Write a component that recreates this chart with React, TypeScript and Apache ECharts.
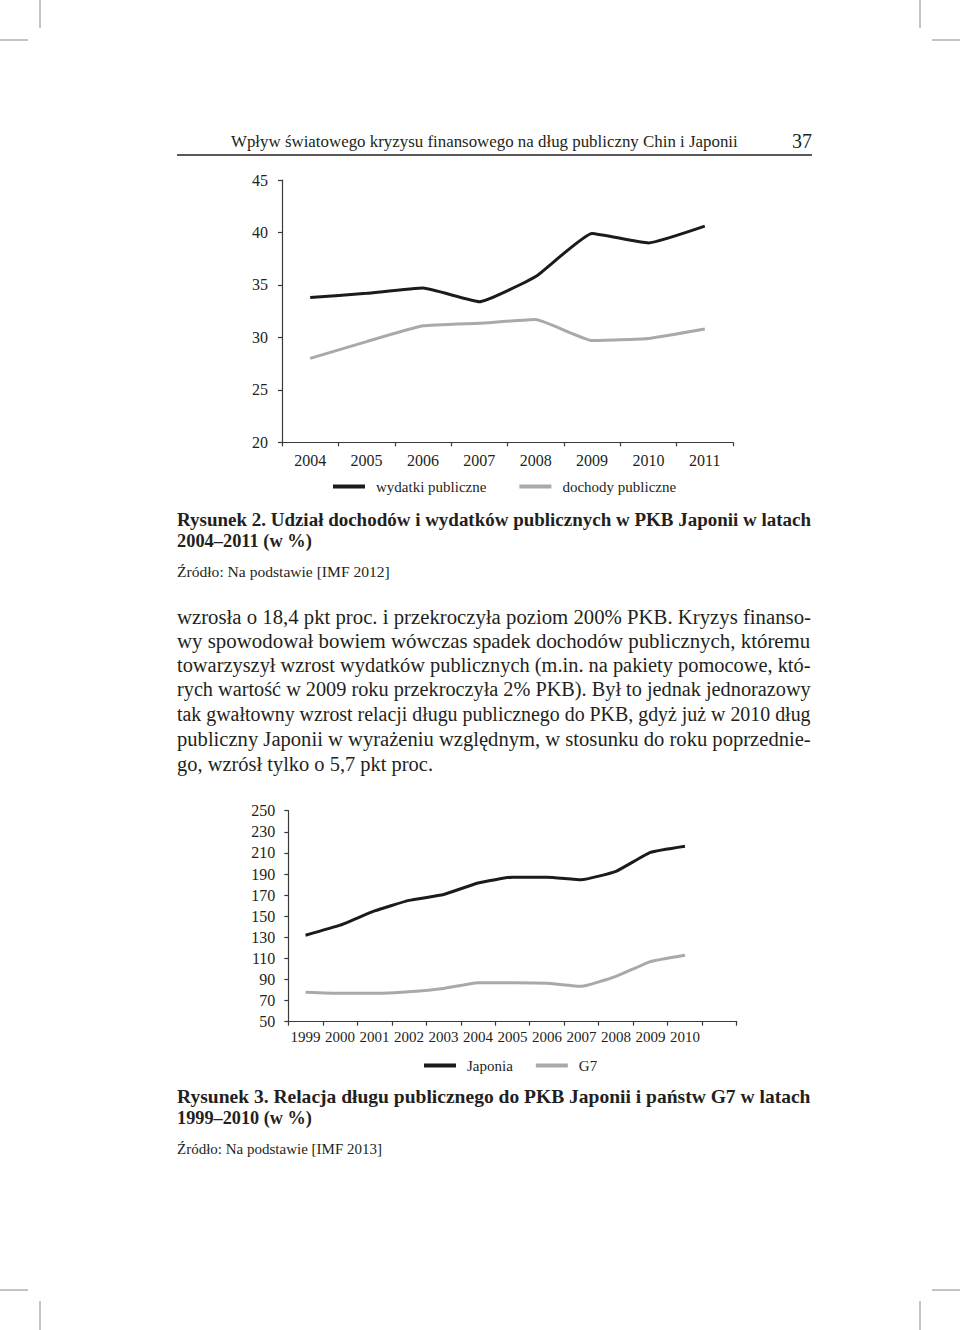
import React, { useEffect, useRef } from "react";
import * as echarts from "echarts";

// ---- Data: Figure 2 (share of public revenue / expenditure in GDP of Japan, %)
const years1 = ["2004", "2005", "2006", "2007", "2008", "2009", "2010", "2011"];
const wydatki = [33.8, 34.2, 34.7, 33.4, 35.8, 39.9, 39.0, 40.6];
const dochody = [28.0, 29.6, 31.1, 31.35, 31.7, 29.7, 29.9, 30.8];

// ---- Data: Figure 3 (public debt to GDP, Japan and G7, %)
const years2 = ["1999", "2000", "2001", "2002", "2003", "2004", "2005", "2006", "2007", "2008", "2009", "2010"];
const japonia = [132, 141.5, 155, 165, 170.5, 181.5, 187, 187, 184.5, 192.5, 210.5, 216.3];
const g7 = [78, 77, 77, 78.5, 81.5, 87, 87, 86.5, 83.5, 93, 107, 113];

// ---- Page texts
const headerText = "Wpływ światowego kryzysu finansowego na dług publiczny Chin i Japonii";
const pageNumber = "37";
const caption2 = ["Rysunek 2. Udział dochodów i wydatków publicznych w PKB Japonii w latach", "2004–2011 (w %)"];
const source2 = "Źródło: Na podstawie [IMF 2012]";
const bodyLines = [
  "wzrosła o 18,4 pkt proc. i przekroczyła poziom 200% PKB. Kryzys finanso-",
  "wy spowodował bowiem wówczas spadek dochodów publicznych, któremu",
  "towarzyszył wzrost wydatków publicznych (m.in. na pakiety pomocowe, któ-",
  "rych wartość w 2009 roku przekroczyła 2% PKB). Był to jednak jednorazowy",
  "tak gwałtowny wzrost relacji długu publicznego do PKB, gdyż już w 2010 dług",
  "publiczny Japonii w wyrażeniu względnym, w stosunku do roku poprzednie-",
  "go, wzrósł tylko o 5,7 pkt proc.",
];
const caption3 = ["Rysunek 3. Relacja długu publicznego do PKB Japonii i państw G7 w latach", "1999–2010 (w %)"];
const source3 = "Źródło: Na podstawie [IMF 2013]";

const FONT = "'Liberation Serif', 'Times New Roman', serif";
const TEXT = "#231f20";
const BLACK = "#1b1b1b";
const GRAY = "#a9a9a9";
const AXIS = "#3a3a3a";

export default function App() {
  const ref = useRef<HTMLDivElement>(null);

  useEffect(() => {
    if (!ref.current) return;
    const chart = echarts.init(ref.current, null, { renderer: "svg" });
    const canvas = document.createElement("canvas");
    const ctx = canvas.getContext("2d") as CanvasRenderingContext2D;

    const txt = (text: string, x: number, y: number, size: number, weight: string, width?: number) => {
      ctx.font = `${weight} ${size}px ${FONT}`;
      const w = ctx.measureText(text).width;
      let sx = width ? width / w : 1;
      sx = Math.max(0.8, Math.min(1.25, sx));
      return {
        type: "text",
        x,
        y,
        scaleX: sx,
        silent: true,
        style: {
          text,
          fill: TEXT,
          fontSize: size,
          fontWeight: weight,
          fontFamily: FONT,
          verticalAlign: "middle",
          textVerticalAlign: "middle",
        },
      };
    };

    const L = 177;
    const R = 811;
    const bodyY = [617, 641, 665, 689, 714, 739, 764];

    const graphics: any[] = [
      // crop marks
      { type: "line", silent: true, shape: { x1: 40, y1: 0, x2: 40, y2: 28 }, style: { stroke: "#888", lineWidth: 1 } },
      { type: "line", silent: true, shape: { x1: 0, y1: 40, x2: 28, y2: 40 }, style: { stroke: "#888", lineWidth: 1 } },
      { type: "line", silent: true, shape: { x1: 920, y1: 0, x2: 920, y2: 28 }, style: { stroke: "#888", lineWidth: 1 } },
      { type: "line", silent: true, shape: { x1: 932, y1: 40, x2: 960, y2: 40 }, style: { stroke: "#888", lineWidth: 1 } },
      { type: "line", silent: true, shape: { x1: 0, y1: 1290, x2: 28, y2: 1290 }, style: { stroke: "#888", lineWidth: 1 } },
      { type: "line", silent: true, shape: { x1: 932, y1: 1290, x2: 960, y2: 1290 }, style: { stroke: "#888", lineWidth: 1 } },
      { type: "line", silent: true, shape: { x1: 40, y1: 1301, x2: 40, y2: 1330 }, style: { stroke: "#888", lineWidth: 1 } },
      { type: "line", silent: true, shape: { x1: 920, y1: 1301, x2: 920, y2: 1330 }, style: { stroke: "#888", lineWidth: 1 } },
      // running header
      txt(headerText, 231, 141, 17, "normal", 507),
      txt(pageNumber, 792, 141, 20, "normal", 20),
      { type: "line", silent: true, shape: { x1: L, y1: 155, x2: 812, y2: 155 }, style: { stroke: TEXT, lineWidth: 1.3 } },
      // caption figure 2
      txt(caption2[0], L, 520, 18.5, "bold", R - L),
      txt(caption2[1], L, 541, 18.5, "bold", 135),
      txt(source2, L, 572, 15, "normal", 213),
      // body
      ...bodyLines.map((t, i) => txt(t, L, bodyY[i], 20, "normal", i === bodyLines.length - 1 ? 256 : R - L)),
      // caption figure 3
      txt(caption3[0], L, 1097, 18.5, "bold", R - L),
      txt(caption3[1], L, 1118, 18.5, "bold", 135),
      txt(source3, L, 1149, 15, "normal", 205),
    ];

    const axisCommon = {
      axisLine: { show: true, lineStyle: { color: AXIS, width: 1.2 } },
      axisTick: { show: true, inside: false, length: 4, lineStyle: { color: AXIS, width: 1.2 } },
      splitLine: { show: false },
    };
    const labelStyle = (size: number, margin: number) => ({
      fontFamily: FONT,
      fontSize: size,
      color: TEXT,
      margin,
    });

    const lineSeries = (name: string, data: number[], color: string, idx: number) => ({
      name,
      type: "line",
      xAxisIndex: idx,
      yAxisIndex: idx,
      data,
      symbol: "none",
      smooth: 0.12,
      lineStyle: { color, width: 3 },
      itemStyle: { color },
    });

    chart.setOption({
      animation: false,
      backgroundColor: "#ffffff",
      grid: [
        { left: 282, top: 180, width: 451, height: 262.3 },
        { left: 288.3, top: 810.7, width: 448.4, height: 211 },
      ],
      xAxis: [
        {
          type: "category",
          gridIndex: 0,
          data: years1,
          boundaryGap: true,
          ...axisCommon,
          axisLabel: labelStyle(16, 10),
        },
        {
          type: "category",
          gridIndex: 1,
          data: [...years2, ""],
          boundaryGap: true,
          ...axisCommon,
          axisLabel: { ...labelStyle(15, 8), interval: 0 },
        },
      ],
      yAxis: [
        {
          type: "value",
          gridIndex: 0,
          min: 20,
          max: 45,
          interval: 5,
          ...axisCommon,
          axisLabel: labelStyle(16, 14),
        },
        {
          type: "value",
          gridIndex: 1,
          min: 50,
          max: 250,
          interval: 20,
          ...axisCommon,
          axisLabel: labelStyle(16, 13),
        },
      ],
      legend: [
        {
          data: ["wydatki publiczne", "dochody publiczne"],
          left: 333,
          top: 479,
          padding: 0,
          icon: "rect",
          itemWidth: 32,
          itemHeight: 4,
          itemGap: 33,
          textStyle: { fontFamily: FONT, fontSize: 15, color: TEXT, padding: [0, 0, 0, 6] },
        },
        {
          data: ["Japonia", "G7"],
          left: 424,
          top: 1058,
          padding: 0,
          icon: "rect",
          itemWidth: 32,
          itemHeight: 4,
          itemGap: 23,
          textStyle: { fontFamily: FONT, fontSize: 15, color: TEXT, padding: [0, 0, 0, 6] },
        },
      ],
      series: [
        lineSeries("wydatki publiczne", wydatki, BLACK, 0),
        lineSeries("dochody publiczne", dochody, GRAY, 0),
        lineSeries("Japonia", japonia, BLACK, 1),
        lineSeries("G7", g7, GRAY, 1),
      ],
      graphic: graphics,
    });

    return () => chart.dispose();
  }, []);

  return (
    <div
      ref={ref}
      style={{ position: "absolute", left: 0, top: 0, width: 960, height: 1330, background: "#fff" }}
    />
  );
}
